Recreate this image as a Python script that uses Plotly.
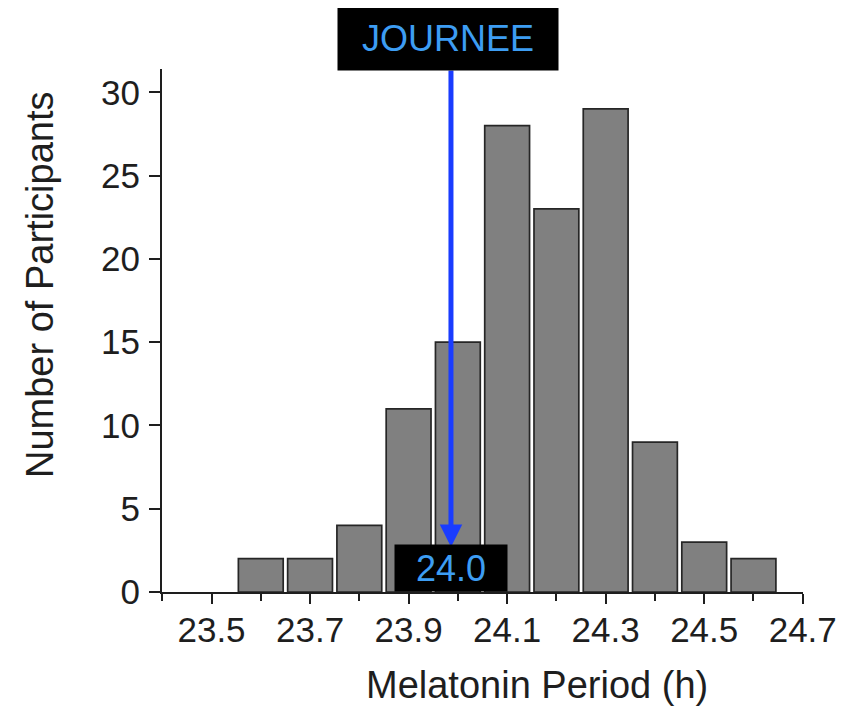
import plotly.graph_objects as go

# Data
bin_centers = [23.6, 23.7, 23.8, 23.9, 24.0, 24.1, 24.2, 24.3, 24.4, 24.5, 24.6]
counts = [2, 2, 4, 11, 15, 28, 23, 29, 9, 3, 2]
x_tick_vals = [23.5, 23.7, 23.9, 24.1, 24.3, 24.5, 24.7]
x_tick_text = ["23.5", "23.7", "23.9", "24.1", "24.3", "24.5", "24.7"]
y_tick_vals = [0, 5, 10, 15, 20, 25, 30]
marker_value = 23.986
marker_label = "24.0"
marker_title = "JOURNEE"

# page body has an 8px margin; figure is sized so it ends at the window edges
OFF = 8
W, H = 846 - OFF, 706 - OFF
# plot area in screen pixels: x 162..803, y 69..592
L, T = 162 - OFF, 69 - OFF
R = W - (803 - OFF)
B = H - (592 - OFF)
pw, ph = W - L - R, H - T - B
YMAX = 31.4

FONT = "Liberation Sans, Arial, sans-serif"
INK = "#1e1e1e"

fig = go.Figure()
fig.add_trace(go.Bar(
    x=bin_centers, y=counts, width=0.091,
    marker=dict(color="#808080", line=dict(color="#262626", width=1.7)),
    showlegend=False,
))

fig.update_layout(
    width=W, height=H,
    margin=dict(l=L, r=R, t=T, b=B, autoexpand=False),
    paper_bgcolor="white", plot_bgcolor="white",
    font=dict(family=FONT, color=INK),
    xaxis=dict(
        range=[23.3995, 24.7005], showgrid=False, zeroline=False, automargin=False,
        showline=True, linecolor=INK, linewidth=2,
        ticks="outside", ticklen=10, tickwidth=2, tickcolor=INK,
        tickvals=x_tick_vals, ticktext=x_tick_text, ticklabelstandoff=-4,
        tickfont=dict(size=35, family=FONT, color=INK),
        minor=dict(dtick=0.1, tick0=23.4, ticks="outside", ticklen=7, tickwidth=2, tickcolor=INK),
    ),
    yaxis=dict(
        range=[0, YMAX], showgrid=False, zeroline=False, automargin=False,
        showline=True, linecolor=INK, linewidth=2,
        ticks="outside", ticklen=11, tickwidth=2, tickcolor=INK,
        tickvals=y_tick_vals, ticklabelstandoff=2,
        tickfont=dict(size=35, family=FONT, color=INK),
    ),
)

def px_x(p):
    # screen pixel -> paper x
    return (p - OFF - L) / pw

def px_y(p):
    # screen pixel -> paper y
    return (H - B - (p - OFF)) / ph

annotations = [
    # Axis titles
    dict(text="Melatonin Period (h)", xref="paper", yref="paper",
         x=px_x(537), y=px_y(685), xanchor="center", yanchor="middle",
         showarrow=False, font=dict(size=38, family=FONT, color=INK)),
    dict(text="Number of Participants", xref="paper", yref="paper",
         x=px_x(40), y=px_y(285), xanchor="center", yanchor="middle",
         textangle=-90, showarrow=False, font=dict(size=38, family=FONT, color=INK)),
    # Arrow
    dict(text="", x=marker_value, y=px_y(547) * YMAX, xref="x", yref="y",
         ax=marker_value, ay=YMAX, axref="x", ayref="y",
         showarrow=True, arrowhead=2, arrowsize=0.9, arrowwidth=5, arrowcolor="#1a3cff",
         standoff=0),
    # JOURNEE box
    dict(text=marker_title, xref="paper", yref="paper",
         x=px_x(448), y=px_y(5), xanchor="center", yanchor="top",
         width=220, height=64, borderpad=0, bgcolor="black",
         showarrow=False, font=dict(size=36, family=FONT, color="#3d9df3")),
    # 24.0 box
    dict(text=marker_label, xref="paper", yref="paper",
         x=px_x(451), y=px_y(592), xanchor="center", yanchor="bottom",
         width=112, height=46, borderpad=0, bgcolor="black",
         showarrow=False, font=dict(size=36, family=FONT, color="#3d9df3")),
]
fig.update_layout(annotations=annotations)

fig.write_html("out.html")
